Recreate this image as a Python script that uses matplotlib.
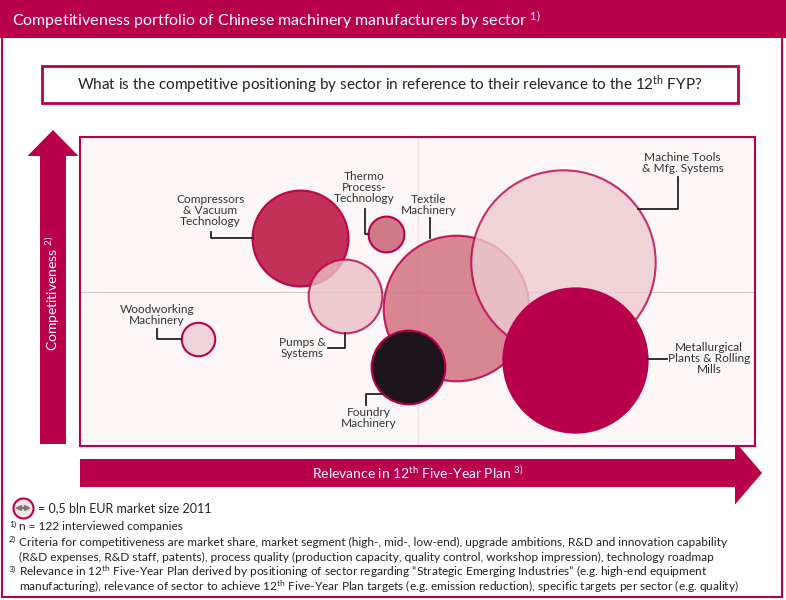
import numpy as np
import matplotlib
matplotlib.use("Agg")
import matplotlib.pyplot as plt
from matplotlib.patches import Rectangle, FancyArrow

plt.rcParams['font.family'] = ['Lato', 'DejaVu Sans']
plt.rcParams['mathtext.fontset'] = 'custom'
plt.rcParams['mathtext.rm'] = 'Lato'
plt.rcParams['mathtext.default'] = 'regular'

# sectors: relevance in 12th FYP (x), competitiveness (y), market size 2011 [bln EUR]
sectors = ["Compressors\n& Vacuum\nTechnology", "Thermo\nProcess-\nTechnology",
           "Pumps &\nSystems", "Woodworking\nMachinery", "Textile\nMachinery",
           "Machine Tools\n& Mfg. Systems", "Metallurgical\nPlants & Rolling\nMills",
           "Foundry\nMachinery"]
relevance = [3.26, 4.53, 3.93, 1.75, 5.57, 7.16, 7.33, 4.86]
competitiveness = [6.73, 6.86, 4.85, 3.46, 4.47, 5.95, 2.78, 2.56]
market_size = [11.5, 1.6, 6.8, 1.4, 26.5, 42.5, 26.0, 6.8]
unit_size = 0.5

CRIMSON = '#B9004B'
fills = ['#C0264F', '#D07A88', '#EABFC5', '#EED4D8', '#D2727F', '#EDCBD0', '#B9004B', '#1C141A']
alphas = [0.95, 1.0, 0.8, 1.0, 0.85, 0.8, 1.0, 1.0]

# label placement (data units) and leader lines
label_pos = [(1.93, 7.61), (4.21, 8.38), (3.29, 3.17), (1.14, 4.24),
             (5.16, 7.80), (8.93, 9.16), (9.32, 2.82), (4.28, 0.91)]
leaders = [[(1.94, 6.93), (1.94, 6.73), (2.56, 6.73)],
           [(4.22, 7.67), (4.22, 6.86), (4.27, 6.86)],
           [(3.67, 3.17), (3.93, 3.17), (3.93, 3.66)],
           [(1.14, 3.79), (1.14, 3.46), (1.50, 3.46)],
           [(5.19, 7.38), (5.19, 6.73)],
           [(8.86, 8.71), (8.86, 7.67), (8.27, 7.67)],
           [(8.40, 2.82), (8.70, 2.82)],
           [(4.24, 1.33), (4.24, 1.68), (4.47, 1.68)]]

footnote_marks = ["1)", "2)", "", "3)", ""]
footnotes = [
    "n = 122 interviewed companies",
    "Criteria for competitiveness are market share, market segment (high-, mid-, low-end), upgrade ambitions, R&D and innovation capability",
    "(R&D expenses, R&D staff, patents), process quality (production capacity, quality control, workshop impression), technology roadmap",
    "Relevance in 12$^{th}$ Five-Year Plan derived by positioning of sector regarding \u201cStrategic Emerging Industries\u201d (e.g. high-end equipment",
    "manufacturing), relevance of sector to achieve 12$^{th}$ Five-Year Plan targets (e.g. emission reduction), specific targets per sector (e.g. quality)",
]


def bubble_area(size):
    # 0.5 bln EUR -> circle of 10 px radius (area proportional to market size)
    d_pt = 2 * 10 * 0.72
    return d_pt ** 2 * np.asarray(size) / unit_size


fig = plt.figure(figsize=(7.86, 6.0), dpi=100)
fig.patch.set_facecolor('white')

# background / decoration layer in pixel coordinates
bg = fig.add_axes([0, 0, 1, 1], zorder=0)
bg.set_xlim(0, 786)
bg.set_ylim(600, 0)
bg.axis('off')

bg.add_patch(Rectangle((2, 0), 780, 597, fill=False, ec=CRIMSON, lw=1.5))
bg.add_patch(Rectangle((0, 0), 786, 38, fc=CRIMSON, ec='none'))
bg.text(12, 20, "Competitiveness portfolio of Chinese machinery manufacturers by sector $^{1)}$",
        color='white', fontsize=11.5, va='center', ha='left')

bg.add_patch(Rectangle((42, 66), 696, 37, fc='white', ec=CRIMSON, lw=2))
bg.text(390, 85, "What is the competitive positioning by sector in reference to their relevance to the 12$^{th}$ FYP?",
        color='#222222', fontsize=11, va='center', ha='center')

# axis arrows
bg.add_patch(FancyArrow(53, 444, 0, -288, width=26, head_width=51, head_length=26,
                        length_includes_head=False, fc=CRIMSON, ec='none'))
bg.text(53, 293, "Competitiveness $^{2)}$", rotation=90, color='white', fontsize=10,
        ha='center', va='center')
bg.add_patch(FancyArrow(80, 473, 655, 0, width=28, head_width=63, head_length=27,
                        length_includes_head=False, fc=CRIMSON, ec='none'))
bg.text(418, 473, "Relevance in 12$^{th}$ Five-Year Plan $^{3)}$", color='white', fontsize=10,
        ha='center', va='center')

# size legend
bg.scatter([23], [508], s=bubble_area(unit_size), c='#F4E4E6', edgecolors=CRIMSON, linewidths=1.5)
bg.annotate("", xy=(15, 508), xytext=(31, 508),
            arrowprops=dict(arrowstyle='<|-|>', color='#777777', lw=1.5, mutation_scale=7,
                            shrinkA=0, shrinkB=0))
bg.text(38, 508, "= 0,5 bln EUR market size 2011", fontsize=9, color='#222222', va='center')

for i, line in enumerate(footnotes):
    y = 527 + i * 15
    if footnote_marks[i]:
        bg.text(9, y - 3, footnote_marks[i], fontsize=6, color='#222222', va='center')
    bg.text(19, y, line, fontsize=8.6, color='#222222', va='center')

# portfolio plot
ax = fig.add_axes([80 / 786, 154 / 600, 675 / 786, 309 / 600], zorder=1)
ax.set_facecolor('#FDF6F6')
ax.set_xlim(0, 10)
ax.set_ylim(0, 10)
ax.set_xticks([])
ax.set_yticks([])
for sp in ax.spines.values():
    sp.set_color(CRIMSON)
    sp.set_linewidth(1.5)
ax.axhline(5, color='#DCC3C7', lw=0.8, zorder=0)
ax.axvline(5, color='#EFE1E3', lw=0.8, zorder=0)

for i in range(len(sectors)):
    ax.scatter(relevance[i], competitiveness[i], s=bubble_area(market_size[i]),
               c=fills[i], alpha=alphas[i], edgecolors=CRIMSON, linewidths=1.5,
               zorder=2 + i, clip_on=False)
    lx, ly = label_pos[i]
    ax.text(lx, ly, sectors[i], fontsize=8.6, color='#333333', ha='center', va='center',
            linespacing=1.0, zorder=20)
    pts = np.array(leaders[i])
    ax.plot(pts[:, 0], pts[:, 1], color='#222222', lw=1.3, zorder=20, clip_on=False)

fig.savefig("out.png", dpi=100, facecolor='white')
